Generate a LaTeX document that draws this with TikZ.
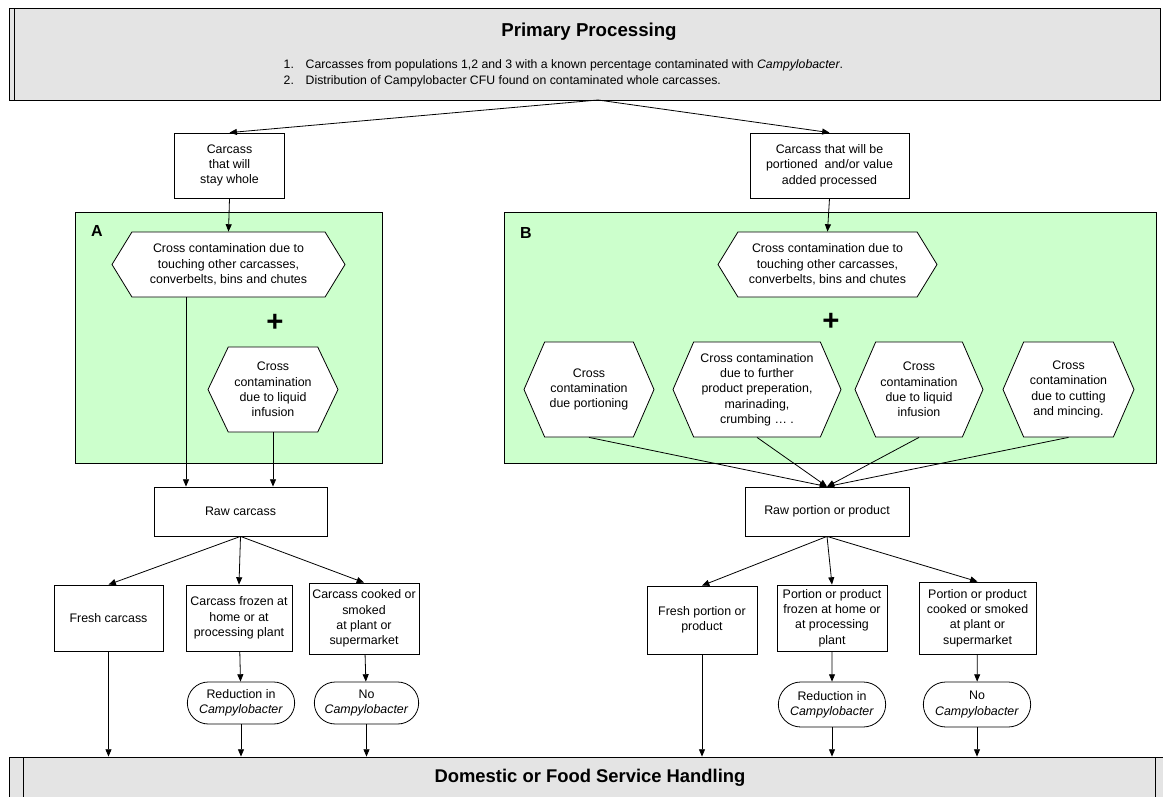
\documentclass[tikz,border=0pt]{standalone}
\usepackage{fontspec}
\setmainfont{Liberation Sans}
\usepackage{xcolor}
\usetikzlibrary{arrows.meta,shapes.symbols,shapes.misc}

\definecolor{zonegreen}{HTML}{CCFFCC}
\definecolor{bargrey}{HTML}{E4E4E4}
\newcommand{\px}{0.75pt}
\newcommand{\boxfont}{\fontsize{9.3}{11.5}\selectfont}
\newcommand{\campy}{\textit{Campylobacter}}

\tikzset{
  arr/.style={-{Triangle[length=5.5pt,width=4.5pt]},line width=0.6pt},
  stepbox/.style={draw,fill=white,align=center,font=\boxfont,inner sep=1pt,line width=0.6pt},
  hexa/.style={signal,signal to=west and east,draw,fill=white,align=center,
    font=\boxfont,inner sep=1pt,line width=0.6pt},
  outcome/.style={rounded rectangle,draw,fill=white,align=center,font=\boxfont,
    inner sep=1pt,line width=0.6pt,minimum width=110*\px,minimum height=42*\px},
  zone/.style={draw,fill=zonegreen,line width=0.6pt},
  bar/.style={draw,fill=bargrey,line width=0.6pt},
}

\begin{document}
\begin{tikzpicture}[x=0.75pt,y=-0.75pt]
  \useasboundingbox (0,0) rectangle (1163,796);

  % primary processing
  \node[bar,minimum width=1151*\px,minimum height=92*\px] (pp) at (584.5,54) {};
  \draw[line width=0.6pt] (14,8) -- (14,100);
  \node[font=\bfseries\fontsize{14}{16}\selectfont] (pptitle) at (589,32) {Primary Processing};
  \node[anchor=west,align=left,font=\fontsize{9.2}{12}\selectfont] (pplist) at (279,73.5)
    {\makebox[16.5pt][l]{1.}Carcasses from populations 1,2 and 3 with a known percentage contaminated with \campy.\\
     \makebox[16.5pt][l]{2.}Distribution of Campylobacter CFU found on contaminated whole carcasses.};
  \coordinate (ppout) at (598,100);

  % domestic handling
  \node[bar,minimum width=1166*\px,minimum height=54*\px] (dh) at (592,784) {};
  \draw[line width=0.6pt] (23,757) -- (23,811);
  \draw[line width=0.6pt] (1155,757) -- (1155,811);
  \node[font=\bfseries\fontsize{13.8}{15}\selectfont] (dhtitle) at (590,778) {Domestic or Food Service Handling};

  % green zones
  \draw[zone] (75,212) rectangle (382,463);
  \draw[zone] (504,212) rectangle (1156,463);
  \node[font=\bfseries\fontsize{12}{14}\selectfont] (labA) at (97,231) {A};
  \node[font=\bfseries\fontsize{12}{14}\selectfont] (labB) at (526,233) {B};
  \node[font=\bfseries\fontsize{22}{22}\selectfont] (plusA) at (275,323) {+};
  \node[font=\bfseries\fontsize{22}{22}\selectfont] (plusB) at (831,322) {+};

  % whole carcass branch
  \node[stepbox,minimum width=110*\px,minimum height=65*\px] (c1) at (229.5,165.5)
    {Carcass\\that will\\stay whole};
  \node[hexa,minimum width=233*\px,minimum height=65*\px,signal pointer angle=117] (a1) at (228.5,264.5)
    {Cross contamination due to\\touching other carcasses,\\converbelts, bins and chutes};
  \node[hexa,minimum width=130*\px,minimum height=85*\px,signal pointer angle=129] (a2) at (273,389.5)
    {Cross\\contamination\\due to liquid\\infusion};
  \node[stepbox,minimum width=173*\px,minimum height=49*\px] (r1) at (240.5,511.5) {Raw carcass};
  \node[stepbox,minimum width=109*\px,minimum height=66*\px] (f1) at (108.5,618) {Fresh carcass};
  \node[stepbox,minimum width=106*\px,minimum height=66*\px] (f2) at (239,618)
    {Carcass frozen at\\home or at\\processing plant};
  \node[stepbox,minimum width=110*\px,minimum height=71*\px] (f3) at (364,618.5)
    {Carcass cooked or\\smoked\\at plant or\\supermarket};
  \node[outcome] (t2) at (241,703) {Reduction in\\\campy};
  \node[outcome,minimum width=107*\px] (t3) at (366.5,703) {No\\\campy};

  % portioned branch
  \node[stepbox,minimum width=159*\px,minimum height=65*\px] (c2) at (829.5,165.5)
    {Carcass that will be\\portioned\ \ and/or value\\added processed};
  \node[hexa,minimum width=219*\px,minimum height=65*\px,signal pointer angle=117] (b1) at (827.5,264.5)
    {Cross contamination due to\\touching other carcasses,\\converbelts, bins and chutes};
  \node[hexa,minimum width=130*\px,minimum height=95*\px,signal pointer angle=133] (b2) at (589,389.5)
    {Cross\\contamination\\due portioning};
  \node[hexa,minimum width=168*\px,minimum height=95*\px,signal pointer angle=133] (b3) at (757,389.5)
    {Cross contamination\\due to further\\product preperation,\\marinading,\\crumbing … .};
  \node[hexa,minimum width=128*\px,minimum height=95*\px,signal pointer angle=133] (b4) at (919,389.5)
    {Cross\\contamination\\due to liquid\\infusion};
  \node[hexa,minimum width=131*\px,minimum height=95*\px,signal pointer angle=133] (b5) at (1068.5,389.5)
    {Cross\\contamination\\due to cutting\\and mincing.};
  \node[stepbox,minimum width=164*\px,minimum height=49*\px] (r2) at (827,511.5) {Raw portion or product};
  \node[stepbox,minimum width=110*\px,minimum height=68*\px] (g1) at (702,620)
    {Fresh portion or\\product};
  \node[stepbox,minimum width=110*\px,minimum height=66*\px] (g2) at (832,618)
    {Portion or product\\frozen at home or\\at processing\\plant};
  \node[stepbox,minimum width=117*\px,minimum height=72*\px] (g3) at (977.5,618)
    {Portion or product\\cooked or smoked\\at plant or\\supermarket};
  \node[outcome,minimum height=45*\px] (u2) at (832,704.5) {Reduction in\\\campy};
  \node[outcome,minimum height=45*\px] (u3) at (977,704.5) {No\\\campy};

  % connectors
  \draw[arr] (ppout) -- (c1.north);
  \draw[arr] (ppout) -- (c2.north);
  \draw[arr] (c1.south) -- (a1.north);
  \draw[arr] ([xshift=-42.5*\px]a1.south) -- ([xshift=-42.5*\px]a1.south |- r1.north);
  \draw[arr] (a2.south) -- (a2.south |- r1.north);
  \foreach \n in {f1,f2,f3}
    \draw[arr] (r1.south) -- (\n.north);
  \draw[arr] (f2) -- (t2);
  \draw[arr] (f3) -- (t3);
  \foreach \n in {f1,t2,t3}
    \draw[arr] (\n.south) -- (\n.south |- dh.north);

  \draw[arr] (c2.south) -- (b1.north);
  \foreach \n in {b2,b3,b4,b5}
    \draw[arr] (\n.south) -- (r2.north);
  \foreach \n in {g1,g2,g3}
    \draw[arr] (r2.south) -- (\n.north);
  \draw[arr] (g2) -- (u2);
  \draw[arr] (g3) -- (u3);
  \foreach \n in {g1,u2,u3}
    \draw[arr] (\n.south) -- (\n.south |- dh.north);
\end{tikzpicture}
\end{document}
